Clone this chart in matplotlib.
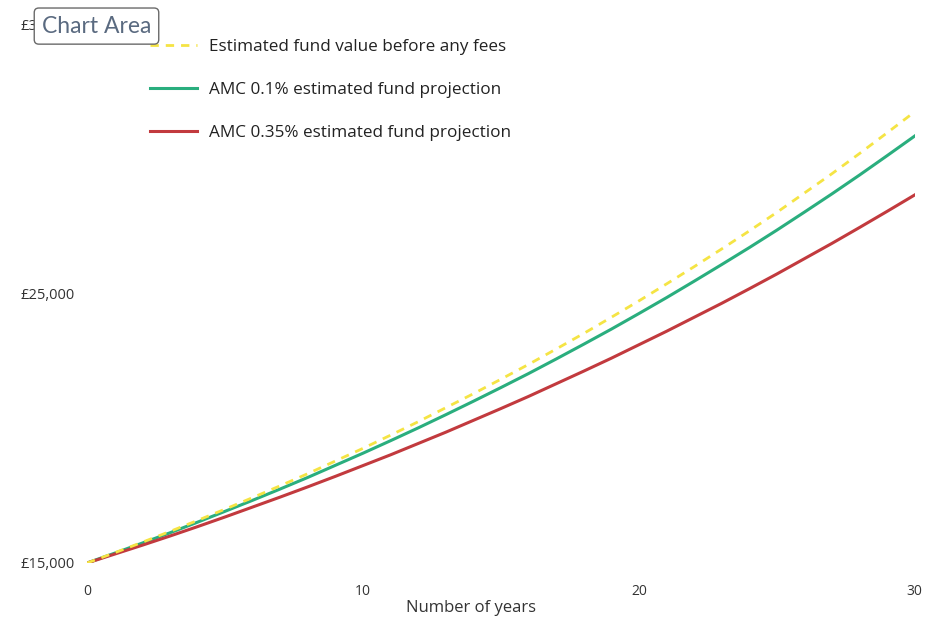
import matplotlib
matplotlib.use("Agg")
import matplotlib.pyplot as plt
from matplotlib.ticker import FuncFormatter

years = list(range(0, 31))
before_fees = [15000, 15380, 15770, 16170, 16580, 17000, 17430, 17870, 18320, 18790,
               19260, 19750, 20250, 20770, 21290, 21830, 22380, 22950, 23530, 24130,
               24740, 25370, 26010, 26670, 27340, 28030, 28750, 29470, 30220, 30990, 31770]
amc_01 = [15000, 15365, 15740, 16120, 16515, 16920, 17330, 17750, 18180, 18630,
          19080, 19545, 20020, 20510, 21010, 21520, 22040, 22580, 23130, 23690,
          24270, 24860, 25470, 26090, 26720, 27370, 28040, 28720, 29420, 30140, 30870]
amc_035 = [15000, 15330, 15660, 16000, 16350, 16710, 17080, 17450, 17830, 18220,
           18620, 19020, 19440, 19860, 20300, 20740, 21190, 21660, 22130, 22610,
           23110, 23610, 24130, 24650, 25190, 25740, 26310, 26880, 27470, 28070, 28680]
series_labels = ["Estimated fund value before any fees",
                 "AMC 0.1% estimated fund projection",
                 "AMC 0.35% estimated fund projection"]
x_ticks = [0, 10, 20, 30]
y_ticks = [15000, 25000, 35000]
x_label = "Number of years"

plt.rcParams['font.family'] = ['Open Sans', 'DejaVu Sans']

fig = plt.figure(figsize=(9.29, 6.21), dpi=100)
ax = fig.add_axes([0.0937, 0.0934, 0.891, 0.8666])

ax.plot(years, before_fees, color="#f5e444", lw=2, ls=(0, (3, 2.5)), label=series_labels[0], zorder=3)
ax.plot(years, amc_01, color="#2aae7e", lw=2.2, label=series_labels[1], zorder=2)
ax.plot(years, amc_035, color="#c23a3e", lw=2.2, label=series_labels[2], zorder=2)

ax.set_xlim(0, 30)
ax.set_ylim(15000, 35000)
ax.set_xticks(x_ticks)
ax.set_yticks(y_ticks)
ax.yaxis.set_major_formatter(FuncFormatter(lambda v, p: "£{:,.0f}".format(v)))
for s in ax.spines.values():
    s.set_visible(False)
ax.tick_params(axis='x', length=0, pad=15, labelsize=10, labelcolor="#333333")
ax.tick_params(axis='y', length=0, pad=9, labelsize=10.5, labelcolor="#333333")
ax.set_xlabel(x_label, fontsize=12, color="#333333")
ax.xaxis.set_label_coords(0.464, -0.068)

leg = fig.legend(loc="upper left", bbox_to_anchor=(0.145, 0.962), frameon=False,
                 fontsize=12.3, handlelength=2.75, handletextpad=0.7, labelspacing=1.58,
                 handles=ax.get_lines(), labels=series_labels)
for t in leg.get_texts():
    t.set_color("#222222")

fig.text(0.045, 0.958, "Chart Area", fontsize=16.5, family="Lato", color="#5a6a80",
         va="center", ha="left", zorder=10,
         bbox=dict(boxstyle="round,pad=0.33,rounding_size=0.2", fc="white", ec="#6a6a6a", lw=1))

fig.savefig("out.png", dpi=100)
